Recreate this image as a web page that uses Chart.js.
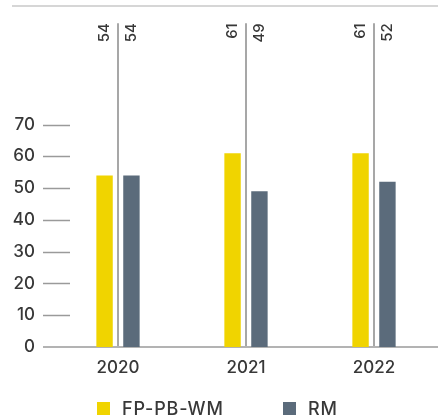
<!DOCTYPE html>
<html>
<head>
<meta charset="utf-8">
<script src="https://cdn.jsdelivr.net/npm/chart.js@4"></script>
<style>
  html, body { margin:0; padding:0; background:#fff; }
  #wrap { position:relative; width:438px; height:419px; }
  #legend { position:absolute; left:97px; top:398px; display:flex; font:500 18px Inter, sans-serif; letter-spacing:0.8px; color:#383838; }
  #legend .item { display:flex; align-items:center; }
  #legend .item:first-child { width:186px; }
  #legend .box { width:13px; height:13px; margin-right:12px; }
</style>
</head>
<body>
<div id="wrap">
  <canvas id="chart" width="438" height="419"></canvas>
  <div id="legend"></div>
</div>
<script>
// data
const years = ['2020', '2021', '2022'];
const fpValues = [54, 61, 61];
const rmValues = [54, 49, 52];
const seriesNames = ['FP-PB-WM', 'RM'];
const seriesColors = ['#f0d400', '#5b6b7b'];
const yTickMax = 70;

const textColor = '#383838';
const font = 'Inter, sans-serif';

// lines, ticks and value labels round the bars
const decor = {
  id: 'decor',
  beforeDatasetsDraw(chart){
    const {ctx, chartArea, scales:{x, y}} = chart;
    const base = y.getPixelForValue(0);
    ctx.save();
    // top rule
    ctx.strokeStyle = '#c9c9c9'; ctx.lineWidth = 1.5;
    ctx.beginPath(); ctx.moveTo(12, 6); ctx.lineTo(chartArea.right, 6); ctx.stroke();
    // y tick dashes
    ctx.strokeStyle = '#9a9a9a'; ctx.lineWidth = 1.5;
    y.ticks.forEach(t => {
      if(t.value === 0) return;
      const py = Math.round(y.getPixelForValue(t.value)) + 0.5;
      ctx.beginPath(); ctx.moveTo(43, py); ctx.lineTo(70, py); ctx.stroke();
    });
    // separators between the pair of bars
    ctx.strokeStyle = '#8a8a8a'; ctx.lineWidth = 1.5;
    years.forEach((_, i) => {
      const px = Math.round(x.getPixelForValue(i));
      ctx.beginPath(); ctx.moveTo(px, chartArea.top - 6); ctx.lineTo(px, base); ctx.stroke();
    });
    // baseline
    ctx.strokeStyle = '#b3b3b3'; ctx.lineWidth = 2;
    ctx.beginPath(); ctx.moveTo(43, base); ctx.lineTo(chartArea.right, base); ctx.stroke();
    ctx.restore();
  },
  afterDatasetsDraw(chart){
    const {ctx, chartArea} = chart;
    ctx.save();
    ctx.fillStyle = textColor;
    ctx.font = '500 15px ' + font;
    ctx.textAlign = 'right';
    ctx.textBaseline = 'middle';
    chart.data.datasets.forEach((ds, di) => {
      chart.getDatasetMeta(di).data.forEach((el, i) => {
        ctx.save();
        ctx.translate(el.x, chartArea.top - 6);
        ctx.rotate(-Math.PI / 2);
        ctx.fillText(String(ds.data[i]), 0, 0);
        ctx.restore();
      });
    });
    ctx.restore();
  }
};

function init(){
  const ctx = document.getElementById('chart').getContext('2d');
  new Chart(ctx, {
    type: 'bar',
    data: {
      labels: years,
      datasets: [
        { label: seriesNames[0], data: fpValues, backgroundColor: seriesColors[0] },
        { label: seriesNames[1], data: rmValues, backgroundColor: seriesColors[1] }
      ]
    },
    options: {
      responsive: false,
      animation: false,
      events: [],
      layout: { padding: { top: 26, left: 0, right: 0, bottom: 0 } },
      datasets: { bar: { categoryPercentage: 0.42, barPercentage: 0.61 } },
      plugins: { legend: { display: false }, tooltip: { enabled: false } },
      scales: {
        x: {
          grid: { display: false, drawTicks: false },
          border: { display: false },
          ticks: { color: textColor, font: { family: font, size: 17, weight: 500 }, padding: 11 },
          afterFit(s){ s.height = 72; }
        },
        y: {
          min: 0, max: 100,
          grid: { display: false, drawTicks: false },
          border: { display: false },
          ticks: { stepSize: 10, color: textColor, font: { family: font, size: 17, weight: 500 }, padding: 19 },
          afterBuildTicks(s){ s.ticks = s.ticks.filter(t => t.value <= yTickMax); },
          afterFit(s){ s.width = 54; }
        }
      }
    },
    plugins: [decor]
  });

  // legend
  const leg = document.getElementById('legend');
  seriesNames.forEach((n, i) => {
    const item = document.createElement('div');
    item.className = 'item';
    item.innerHTML = `<span class="box" style="background:${seriesColors[i]}"></span><span>${n}</span>`;
    leg.appendChild(item);
  });
}

window.addEventListener('load', init);
</script>
</body>
</html>
